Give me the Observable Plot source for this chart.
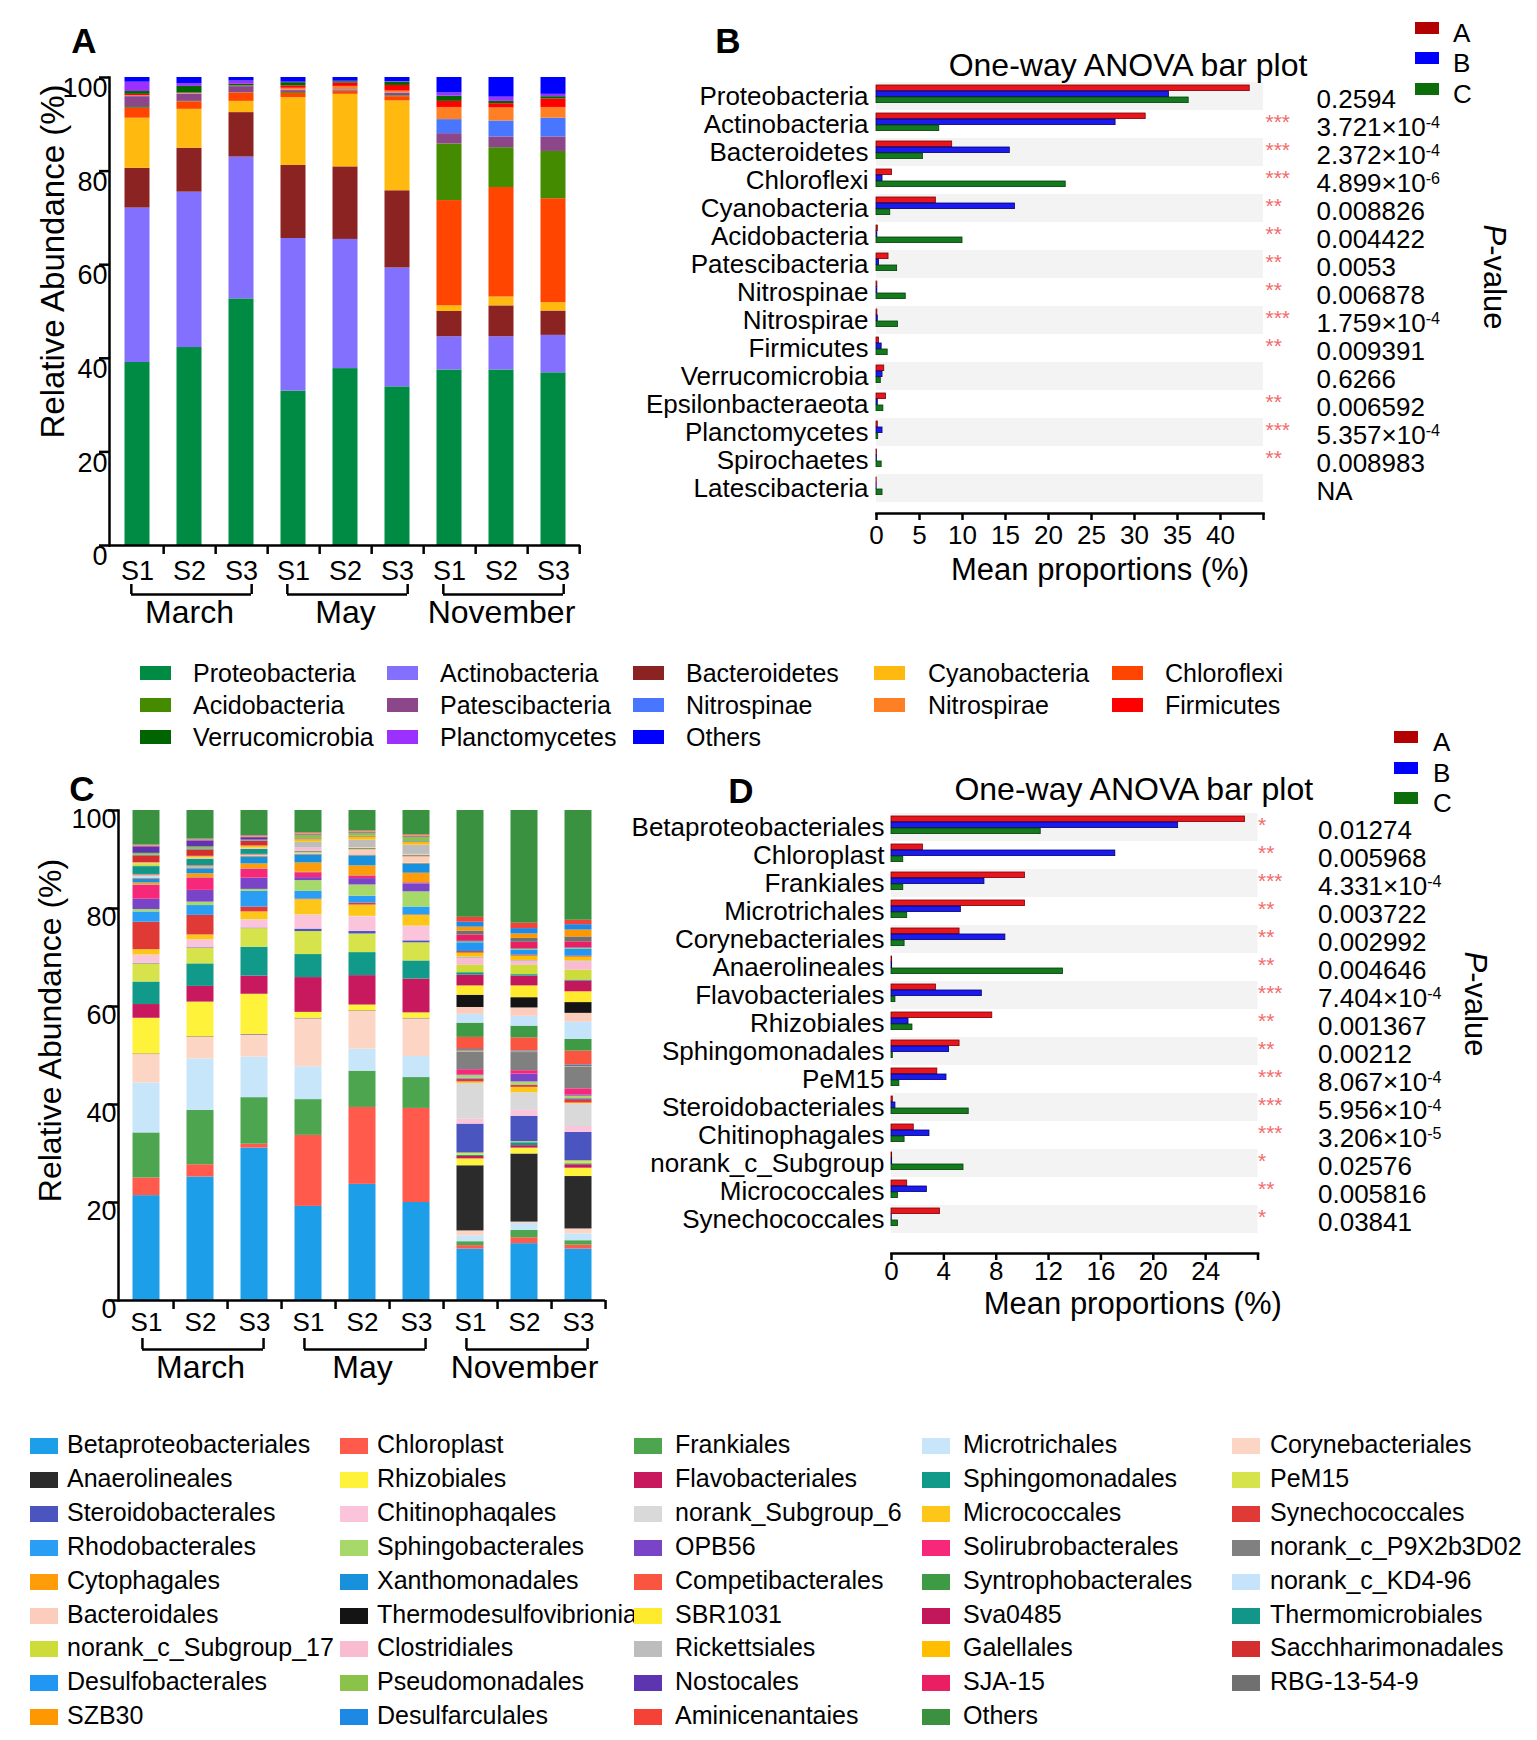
<!DOCTYPE html>
<html>
<head>
<meta charset="utf-8">
<script src="https://cdn.jsdelivr.net/npm/d3@7"></script>
<script src="https://cdn.jsdelivr.net/npm/@observablehq/plot@0.6"></script>
<style>
  body { margin: 0; background: #fff; font-family: 'Liberation Sans', Arial, Helvetica, sans-serif; color: #000; }
  #page { position: relative; width: 1537px; height: 1740px; overflow: hidden; background: #fff; }
  .abs { position: absolute; }
  .lbl { position: absolute; white-space: nowrap; line-height: 1; transform: translateY(-50%); }
  .sw { position: absolute; }
  .letter { position: absolute; font-weight: bold; font-size: 35px; line-height: 1; transform: translate(-50%, -50%); }
  .pval { position: absolute; font-size: 31px; line-height: 1; white-space: nowrap; transform: translate(-50%, -50%) rotate(90deg); }
</style>
</head>
<body>
<div id="page"></div>
<script>
// ---------------- Data: panel A (phylum level) ----------------
const months = ["March", "May", "November"];
const sites = ["S1", "S2", "S3"];
const samples = ["March S1", "March S2", "March S3", "May S1", "May S2", "May S3", "November S1", "November S2", "November S3"];
const yTicks = [0, 20, 40, 60, 80, 100];

const phyla = ["Proteobacteria", "Actinobacteria", "Bacteroidetes", "Cyanobacteria", "Chloroflexi",
  "Acidobacteria", "Patescibacteria", "Nitrospinae", "Nitrospirae", "Firmicutes",
  "Verrucomicrobia", "Planctomycetes", "Others"];
const phylaColors = ["#008B45", "#8470FF", "#8B2323", "#FFB90F", "#FF4500",
  "#458B00", "#8B4789", "#4876FF", "#FF7F24", "#FF0000",
  "#006400", "#9B30FF", "#0000FF"];

// relative abundance (%) per sample, in phyla order
const phyMarS1 = [39.1, 33.0, 8.5, 10.7, 2.1, 0.2, 2.3, 0.1, 0.1, 0.3, 0.6, 2.0, 1.0];
const phyMarS2 = [42.3, 33.2, 9.4, 8.3, 1.6, 0.1, 1.5, 0.1, 0.1, 0.1, 1.4, 0.6, 1.3];
const phyMarS3 = [52.7, 30.3, 9.5, 2.4, 1.8, 0.05, 1.3, 0.05, 0.05, 0.05, 0.35, 0.7, 0.75];
const phyMayS1 = [33.0, 32.6, 15.6, 14.5, 0.9, 0.2, 0.4, 0.1, 0.4, 0.5, 0.7, 0.1, 1.0];
const phyMayS2 = [37.8, 27.6, 15.5, 15.5, 0.6, 0.1, 0.2, 0.1, 0.7, 0.7, 0.3, 0.1, 0.8];
const phyMayS3 = [33.9, 25.4, 16.5, 19.2, 0.9, 0.2, 0.5, 0.1, 0.4, 1.2, 0.7, 0.1, 0.9];
const phyNovS1 = [37.5, 7.1, 5.4, 1.2, 22.5, 12.1, 2.2, 3.0, 2.6, 1.3, 1.1, 0.7, 3.3];
const phyNovS2 = [37.5, 7.1, 6.6, 1.9, 23.4, 8.5, 2.3, 3.4, 2.8, 0.9, 0.5, 0.9, 4.2];
const phyNovS3 = [36.9, 8.0, 5.2, 1.8, 22.2, 10.1, 3.1, 4.0, 2.3, 1.8, 0.5, 0.5, 3.6];

// ---------------- Data: panel B (ANOVA, phylum) ----------------
const bNames = ["Proteobacteria", "Actinobacteria", "Bacteroidetes", "Chloroflexi", "Cyanobacteria",
  "Acidobacteria", "Patescibacteria", "Nitrospinae", "Nitrospirae", "Firmicutes",
  "Verrucomicrobia", "Epsilonbacteraeota", "Planctomycetes", "Spirochaetes", "Latescibacteria"];
const bGroupA = [43.4, 31.3, 8.8, 1.8, 6.9, 0.15, 1.4, 0.1, 0.1, 0.3, 0.9, 1.1, 0.15, 0.05, 0.02];
const bGroupB = [34.0, 27.8, 15.5, 0.7, 16.1, 0.1, 0.3, 0.1, 0.15, 0.6, 0.7, 0.15, 0.7, 0.05, 0.02];
const bGroupC = [36.3, 7.3, 5.4, 22.0, 1.6, 10.0, 2.4, 3.4, 2.5, 1.3, 0.5, 0.8, 0.2, 0.6, 0.7];
const bStars = ["", "***", "***", "***", "**", "**", "**", "**", "***", "**", "", "**", "***", "**", ""];
const bPvalues = ["0.2594", "3.721×10^-4", "2.372×10^-4", "4.899×10^-6", "0.008826", "0.004422", "0.0053",
  "0.006878", "1.759×10^-4", "0.009391", "0.6266", "0.006592", "5.357×10^-4", "0.008983", "NA"];
const bTicks = [0, 5, 10, 15, 20, 25, 30, 35, 40, 45];

// ---------------- Data: panel C (order level) ----------------
const orders = ["Betaproteobacteriales", "Chloroplast", "Frankiales", "Microtrichales", "Corynebacteriales",
  "Anaerolineales", "Rhizobiales", "Flavobacteriales", "Sphingomonadales", "PeM15",
  "Steroidobacterales", "Chitinophaqales", "norank_Subgroup_6", "Micrococcales", "Synechococcales",
  "Rhodobacterales", "Sphingobacterales", "OPB56", "Solirubrobacterales", "norank_c_P9X2b3D02",
  "Cytophagales", "Xanthomonadales", "Competibacterales", "Syntrophobacterales", "norank_c_KD4-96",
  "Bacteroidales", "Thermodesulfovibrionia", "SBR1031", "Sva0485", "Thermomicrobiales",
  "norank_c_Subgroup_17", "Clostridiales", "Rickettsiales", "Galellales", "Sacchharimonadales",
  "Desulfobacterales", "Pseudomonadales", "Nostocales", "SJA-15", "RBG-13-54-9",
  "SZB30", "Desulfarculales", "Aminicenantaies", "Others"];
const orderColors = ["#1C9EE8", "#FF5A4C", "#4DA64F", "#C8E6FA", "#FDD5C4",
  "#2B2B2B", "#FFF23A", "#C9195E", "#11998A", "#D7E34A",
  "#4A55C0", "#FBC4DA", "#D9D9D9", "#FFC61A", "#E03A36",
  "#2A9DF4", "#A6D86A", "#7A44C9", "#F7287A", "#808080",
  "#FF9C0A", "#1890DC", "#FA5540", "#3E9A45", "#C5E4FB",
  "#FCCDBC", "#141414", "#FFEA2E", "#C2185B", "#12968A",
  "#CDDC39", "#F8BBD0", "#BDBDBD", "#FFBF00", "#D32F2F",
  "#2196F3", "#8BC34A", "#5E35B1", "#E91E63", "#707070",
  "#FF9800", "#1E88E5", "#F44336", "#3A9140"];

const ordMarS1 = [21.4, 3.6, 9.2, 10.2, 5.8, 0.1, 7.3, 2.8, 4.6, 3.7, 0.1, 1.6, 0.1, 1.1, 5.6, 2.1, 0.5, 2.1, 2.8, 0.1, 0.4, 0.8, 0.1, 0.1, 0.4, 0.1, 0.05, 0.1, 0.1, 1.6, 0.4, 0.1, 0.1, 0.2, 1.4, 0.1, 0.4, 1.3, 0.1, 0.05, 0.1, 0.1, 0.1, 7.0];
const ordMarS2 = [25.2, 2.5, 11.1, 10.5, 4.4, 0.1, 7.1, 3.2, 4.6, 3.2, 0.1, 1.5, 0.1, 1.0, 4.0, 2.0, 0.7, 2.4, 2.5, 0.1, 0.8, 1.0, 0.1, 0.1, 0.1, 0.1, 0.05, 0.1, 0.1, 1.3, 0.1, 0.1, 0.1, 0.3, 1.3, 0.1, 0.5, 1.2, 0.1, 0.05, 0.1, 0.1, 0.1, 5.8];
const ordMarS3 = [31.1, 0.8, 9.5, 8.3, 4.5, 0.1, 8.2, 3.7, 5.9, 3.8, 0.1, 1.6, 0.1, 1.6, 1.0, 3.2, 0.4, 2.3, 1.8, 0.1, 1.0, 1.3, 0.1, 0.1, 0.1, 0.1, 0.05, 0.1, 0.1, 1.0, 0.1, 0.1, 0.1, 0.4, 1.0, 0.1, 0.1, 0.5, 0.1, 0.05, 0.1, 0.1, 0.1, 5.1];
const ordMayS1 = [19.2, 14.5, 7.3, 6.7, 9.8, 0.1, 1.2, 7.1, 4.7, 4.7, 0.5, 2.8, 0.1, 3.1, 0.1, 1.6, 2.2, 0.6, 1.0, 0.1, 1.9, 1.6, 0.1, 0.1, 0.1, 0.1, 0.05, 0.1, 0.1, 0.1, 0.1, 0.6, 1.2, 0.5, 0.1, 0.1, 0.7, 0.1, 0.1, 0.05, 0.1, 0.1, 0.1, 4.5];
const ordMayS2 = [23.7, 15.7, 7.4, 4.5, 7.7, 0.1, 1.2, 6.0, 4.7, 3.8, 0.5, 3.0, 0.1, 2.3, 0.4, 1.4, 2.3, 1.3, 0.5, 0.1, 2.0, 2.0, 0.1, 0.1, 0.1, 0.9, 0.05, 0.1, 0.1, 0.1, 0.1, 0.1, 1.5, 0.6, 0.1, 0.1, 0.6, 0.1, 0.1, 0.05, 0.1, 0.1, 0.1, 4.1];
const ordMayS3 = [20.0, 19.2, 6.3, 4.3, 7.7, 0.1, 1.1, 6.9, 3.7, 3.7, 0.4, 2.9, 0.1, 2.2, 0.1, 1.6, 3.1, 1.6, 0.2, 0.1, 1.9, 1.8, 0.1, 0.1, 0.1, 1.2, 0.05, 0.1, 0.1, 0.1, 0.1, 0.1, 1.9, 0.5, 0.1, 0.1, 0.9, 0.1, 0.1, 0.05, 0.1, 0.1, 0.1, 4.9];
const ordNovS1 = [10.5, 0.7, 0.8, 1.2, 1.0, 13.3, 1.4, 0.5, 0.2, 0.5, 5.9, 1.0, 7.3, 0.3, 0.6, 0.2, 0.5, 0.1, 1.1, 3.6, 0.2, 0.3, 2.5, 2.9, 1.8, 1.4, 2.5, 1.9, 2.2, 0.5, 1.5, 1.4, 0.3, 0.8, 0.3, 1.8, 0.2, 0.2, 1.2, 0.8, 0.8, 1.0, 1.0, 21.8];
const ordNovS2 = [11.6, 1.2, 1.5, 1.4, 0.3, 13.9, 1.2, 0.5, 0.6, 0.2, 5.2, 1.2, 3.6, 1.1, 0.4, 0.1, 0.6, 1.6, 0.7, 3.7, 0.1, 0.2, 2.7, 2.4, 2.0, 1.7, 2.1, 2.4, 2.0, 0.3, 1.9, 0.8, 0.2, 0.9, 0.2, 1.0, 0.2, 0.1, 1.3, 0.8, 0.9, 1.1, 1.1, 23.0];
const ordNovS3 = [10.5, 0.8, 0.9, 1.4, 1.0, 10.7, 1.7, 0.7, 0.2, 0.6, 5.8, 1.2, 4.6, 0.2, 0.7, 0.2, 0.5, 0.2, 1.3, 4.4, 0.1, 0.3, 2.9, 2.4, 3.5, 1.8, 2.2, 2.2, 2.2, 0.2, 2.0, 1.7, 0.2, 0.8, 0.2, 1.4, 0.2, 0.1, 1.2, 1.0, 1.4, 1.1, 0.9, 22.4];

// ---------------- Data: panel D (ANOVA, order) ----------------
const dNames = ["Betaproteobacteriales", "Chloroplast", "Frankiales", "Microtrichales", "Corynebacteriales",
  "Anaerolineales", "Flavobacteriales", "Rhizobiales", "Sphingomonadales", "PeM15",
  "Steroidobacteriales", "Chitinophagales", "norank_c_Subgroup", "Micrococcales", "Synechococcales"];
const dGroupA = [27.0, 2.4, 10.2, 10.2, 5.2, 0.05, 3.4, 7.7, 5.2, 3.5, 0.1, 1.7, 0.05, 1.2, 3.7];
const dGroupB = [21.9, 17.1, 7.1, 5.3, 8.7, 0.05, 6.9, 1.3, 4.4, 4.2, 0.3, 2.9, 0.05, 2.7, 0.02];
const dGroupC = [11.4, 0.9, 0.9, 1.2, 1.0, 13.1, 0.3, 1.6, 0.1, 0.6, 5.9, 1.0, 5.5, 0.5, 0.5];
const dStars = ["*", "**", "***", "**", "**", "**", "***", "**", "**", "***", "***", "***", "*", "**", "*"];
const dPvalues = ["0.01274", "0.005968", "4.331×10^-4", "0.003722", "0.002992", "0.004646", "7.404×10^-4",
  "0.001367", "0.00212", "8.067×10^-4", "5.956×10^-4", "3.206×10^-5", "0.02576", "0.005816", "0.03841"];
const dTicks = [0, 4, 8, 12, 16, 20, 24, 28];

const groups = ["A", "B", "C"];
const groupFill = ["#E8161C", "#1B1BEF", "#137A1E"];
const groupStroke = ["#7A0000", "#00006A", "#053D08"];
const groupKey = ["#B30000", "#0000FF", "#0B6E0B"];

// ---------------- helpers ----------------
const FONT = "'Liberation Sans', Arial, Helvetica, sans-serif";
const page = document.getElementById("page");

function place(node, left, top) {
  const wrap = document.createElement("div");
  wrap.className = "abs";
  wrap.style.left = left + "px";
  wrap.style.top = top + "px";
  wrap.appendChild(node);
  page.appendChild(wrap);
  return wrap;
}
function superscripts(svg) {
  d3.select(svg).selectAll("text").each(function () {
    const t = this.textContent;
    if (t.includes("^")) {
      const [base, exp] = t.split("^");
      const s = d3.select(this);
      s.text(null);
      s.append("tspan").text(base);
      s.append("tspan").attr("dy", "-0.5em").attr("font-size", "0.62em").text(exp);
    }
  });
}
function textDiv(txt, left, top, size, extra = {}) {
  const d = document.createElement("div");
  d.className = "lbl";
  d.textContent = txt;
  d.style.left = left + "px";
  d.style.top = top + "px";
  d.style.fontSize = size + "px";
  Object.assign(d.style, extra);
  page.appendChild(d);
  return d;
}
function swatch(color, left, top, w, h) {
  const d = document.createElement("div");
  d.className = "sw";
  Object.assign(d.style, {left: left + "px", top: top + "px", width: w + "px", height: h + "px", background: color});
  page.appendChild(d);
}

function stackedPanel(cfg) {
  const tidy = [];
  cfg.rows.forEach((vals, i) => vals.forEach((v, j) => tidy.push({sample: samples[i], taxon: cfg.taxa[j], value: v})));
  const bw = (cfg.width - cfg.mL - cfg.mR) / samples.length;
  const firsts = months.map((m, i) => samples[i * 3]);
  const lasts = months.map((m, i) => samples[i * 3 + 2]);
  return Plot.plot({
    width: cfg.width, height: cfg.height,
    marginLeft: cfg.mL, marginRight: cfg.mR, marginTop: cfg.mT, marginBottom: cfg.mB,
    style: {fontFamily: FONT, background: "transparent", overflow: "visible", color: "#000"},
    x: {type: "band", domain: samples, padding: 0},
    y: {domain: [0, 100]},
    color: {domain: cfg.taxa, range: cfg.colors},
    marks: [
      Plot.barY(tidy, {x: "sample", y: "value", fill: "taxon", insetLeft: cfg.inset, insetRight: cfg.inset}),
      Plot.ruleY([0], {strokeWidth: 2.5}),
      Plot.frame({anchor: "left", strokeWidth: 2.5}),
      Plot.axisY({ticks: yTicks, tickSize: 10, tickFormat: () => "", strokeWidth: 2.5, label: null}),
      Plot.axisY({ticks: yTicks, tickSize: 0, tickPadding: 2, dy: cfg.yTickDy, fontSize: cfg.tickFont, label: null}),
      Plot.axisX({ticks: samples, tickSize: 9, tickFormat: () => "", dx: bw / 2, strokeWidth: 2.5, label: null}),
      Plot.text(samples, {x: d => d, text: (d, i) => sites[i % 3], frameAnchor: "bottom", lineAnchor: "middle",
        dy: cfg.siteDy, fontSize: cfg.siteFont}),
      Plot.ruleY(months, {x1: (d, i) => firsts[i], x2: (d, i) => lasts[i], y: () => 0, dy: cfg.brDy,
        insetLeft: cfg.brL, insetRight: cfg.brR, strokeWidth: 2.5}),
      Plot.ruleX(firsts, {x: d => d, y1: () => 0, y2: () => 0, insetBottom: -cfg.brH, dy: cfg.brDy - cfg.brH,
        dx: cfg.brL - bw / 2, strokeWidth: 2.5}),
      Plot.ruleX(lasts, {x: d => d, y1: () => 0, y2: () => 0, insetBottom: -cfg.brH, dy: cfg.brDy - cfg.brH,
        dx: bw / 2 - cfg.brR, strokeWidth: 2.5}),
      Plot.text(months, {x: (d, i) => samples[i * 3 + 1], text: d => d, frameAnchor: "bottom", lineAnchor: "middle",
        dy: cfg.monthDy, fontSize: 32}),
      Plot.text(["Relative Abundance (%)"], {frameAnchor: "left", textAnchor: "middle", lineAnchor: "middle",
        rotate: -90, dx: cfg.yLabX, dy: cfg.yLabDy, fontSize: cfg.yLabFont})
    ]
  });
}

function anovaPanel(cfg) {
  const rows = cfg.names.map((n, i) => ({name: n, A: cfg.a[i], B: cfg.b[i], C: cfg.c[i], star: cfg.stars[i], p: cfg.p[i], i}));
  const bar = (key, k, top) => Plot.barX(rows, {y: "name", x: key, fill: groupFill[k], stroke: groupStroke[k], strokeWidth: 0.8,
    insetTop: top, insetBottom: cfg.step - top - 6});
  const svg = Plot.plot({
    width: cfg.width, height: cfg.height,
    marginLeft: cfg.mL, marginRight: cfg.mR, marginTop: cfg.mT, marginBottom: cfg.mB,
    style: {fontFamily: FONT, background: "transparent", overflow: "visible", color: "#000"},
    x: {domain: cfg.domain},
    y: {type: "band", domain: cfg.names, padding: 0, insetTop: cfg.insetTop, insetBottom: cfg.insetBottom},
    marks: [
      Plot.cell(rows.filter(d => d.i % 2 === 0), {y: "name", fill: "#F3F3F3"}),
      bar("A", 0, 3), bar("B", 1, 9), bar("C", 2, 15),
      Plot.frame({anchor: "bottom", strokeWidth: 2.5}),
      Plot.axisX({ticks: cfg.ticks, tickSize: 7, tickPadding: cfg.tickPad, fontSize: 26, strokeWidth: 2.5,
        tickFormat: d => d === cfg.domain[1] ? "" : d, label: null}),
      Plot.axisY({tickSize: 0, tickPadding: cfg.labelPad, fontSize: 26, label: null}),
      Plot.text(rows, {y: "name", text: "star", frameAnchor: "right", textAnchor: "start", lineAnchor: "middle",
        dx: cfg.starDx, dy: -2, fill: "#F26A6A", fontSize: 21}),
      Plot.text(rows, {y: "name", text: "p", frameAnchor: "right", textAnchor: "start", lineAnchor: "middle",
        dx: cfg.pDx, dy: 3, fontSize: 26}),
      Plot.text(["One-way ANOVA bar plot"], {frameAnchor: "top", textAnchor: "middle", lineAnchor: "middle",
        dy: cfg.titleDy, dx: cfg.titleDx, fontSize: 32}),
      Plot.text(["Mean proportions (%)"], {frameAnchor: "bottom", textAnchor: "middle", lineAnchor: "middle",
        dy: cfg.xLabDy, dx: cfg.xLabDx, fontSize: 31})
    ]
  });
  superscripts(svg);
  return svg;
}

// ---------------- Panel A ----------------
place(stackedPanel({
  rows: [phyMarS1, phyMarS2, phyMarS3, phyMayS1, phyMayS2, phyMayS3, phyNovS1, phyNovS2, phyNovS3],
  taxa: phyla, colors: phylaColors,
  width: 620, height: 640, mL: 109, mR: 40, mT: 77, mB: 95, inset: 13.5,
  tickFont: 27, yTickDy: 11, siteDy: 26, siteFont: 27, brDy: 49, brH: 10, brL: 20, brR: 16, monthDy: 67,
  yLabX: -56, yLabDy: -50, yLabFont: 33
}), 0, 0);

// ---------------- Panel B ----------------
place(anovaPanel({
  names: bNames, a: bGroupA, b: bGroupB, c: bGroupC, stars: bStars, p: bPvalues,
  width: 917, height: 620, mL: 256, mR: 274, mT: 79, mB: 107, insetTop: 0, insetBottom: 8, step: 28.4,
  domain: [0, 45], ticks: bTicks, tickPad: 5, labelPad: 8,
  starDx: 2, pDx: 53, titleDy: -14, titleDx: 58, xLabDy: 57, xLabDx: 30
}), 620, 0);

// ---------------- Panel C ----------------
place(stackedPanel({
  rows: [ordMarS1, ordMarS2, ordMarS3, ordMayS1, ordMayS2, ordMayS3, ordNovS1, ordNovS2, ordNovS3],
  taxa: orders, colors: orderColors,
  width: 620, height: 640, mL: 118, mR: 15, mT: 50, mB: 100, inset: 13.5,
  tickFont: 27, yTickDy: 9, siteDy: 22, siteFont: 26, brDy: 49, brH: 11, brL: 23, brR: 18, monthDy: 67,
  yLabX: -68, yLabDy: -25, yLabFont: 32
}), 0, 760);

// ---------------- Panel D ----------------
place(anovaPanel({
  names: dNames, a: dGroupA, b: dGroupB, c: dGroupC, stars: dStars, p: dPvalues,
  width: 937, height: 620, mL: 291, mR: 279.5, mT: 88, mB: 87, insetTop: 2, insetBottom: 17, step: 28.4,
  domain: [0, 28], ticks: dTicks, tickPad: 1, labelPad: 7,
  starDx: 0, pDx: 60, titleDy: -19, titleDx: 59, xLabDy: 51, xLabDx: 58
}), 600, 720);

// ---------------- Legends ----------------
const leg1Sw = [140, 387, 633, 874, 1112];
const leg1Tx = [193, 440, 686, 928, 1165];
const leg1Row = [673, 705, 737];
phyla.forEach((p, i) => {
  const r = Math.floor(i / 5), c = i % 5;
  swatch(phylaColors[i], leg1Sw[c], leg1Row[r] - 7, 31, 14);
  textDiv(p, leg1Tx[c], leg1Row[r], 25);
});

const leg2Sw = [30, 340, 634, 922, 1232];
const leg2Tx = [67, 377, 675, 963, 1270];
orders.forEach((o, i) => {
  const r = Math.floor(i / 5), c = i % 5;
  const y = 1444 + r * 33.9;
  swatch(orderColors[i], leg2Sw[c], y - 6, 28, 16);
  textDiv(o, leg2Tx[c], y, 25);
});

// group keys
const keyB = [28, 58, 89];
const keyD = [737, 768, 798];
groups.forEach((g, i) => {
  swatch(groupKey[i], 1415, keyB[i] - 6, 24, 12);
  textDiv(g, 1453, keyB[i] + 5, 26);
  swatch(groupKey[i], 1394, keyD[i] - 6, 24, 12);
  textDiv(g, 1433, keyD[i] + 5, 26);
});

// panel letters
[["A", 84, 40], ["B", 728, 40], ["C", 82, 788], ["D", 741, 790]].forEach(([t, x, y]) => {
  const d = document.createElement("div");
  d.className = "letter";
  d.textContent = t;
  d.style.left = x + "px";
  d.style.top = y + "px";
  page.appendChild(d);
});

// P-value axis titles
[[1494, 277], [1475, 1004]].forEach(([x, y]) => {
  const d = document.createElement("div");
  d.className = "pval";
  d.innerHTML = "<i>P</i>-value";
  d.style.left = x + "px";
  d.style.top = y + "px";
  page.appendChild(d);
});
</script>
</body>
</html>
